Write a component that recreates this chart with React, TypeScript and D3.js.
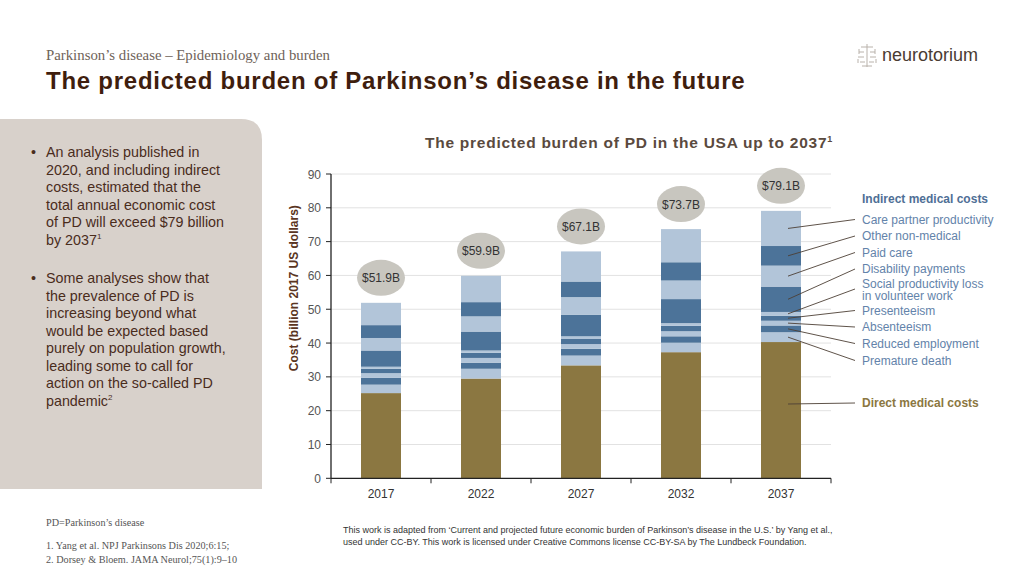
import React from "react";
import * as d3 from "d3";

// Projection years and annual cost components (billion 2017 US dollars)
const years = ["2017", "2022", "2027", "2032", "2037"];
const totals = [51.9, 59.9, 67.1, 73.7, 79.1];

const directMedical = [25.2, 29.5, 33.4, 37.3, 40.3];
const prematureDeath = [2.5, 2.9, 2.9, 2.8, 2.9];
const reducedEmployment = [2.0, 1.8, 2.0, 1.9, 2.0];
const absenteeism = [1.4, 1.4, 1.4, 1.5, 1.4];
const presenteeism = [1.3, 1.5, 1.5, 1.6, 1.5];
const socialProductivity = [0.6, 0.7, 0.8, 0.8, 1.1];
const disabilityPayments = [4.8, 5.6, 6.4, 7.1, 7.5];
const paidCare = [3.7, 4.5, 5.2, 5.5, 6.2];
const otherNonMedical = [3.8, 4.2, 4.6, 5.4, 5.8];
const carePartner = [6.6, 7.8, 8.9, 9.8, 10.4];

const yTicks = [0, 10, 20, 30, 40, 50, 60, 70, 80, 90];

const BROWN = "#8b7741";
const LIGHT = "#b2c5d9";
const DARK = "#4c7399";

// bottom-to-top stacking order
const series = [
  { key: "direct", values: directMedical, color: BROWN },
  { key: "premature", values: prematureDeath, color: LIGHT },
  { key: "reduced", values: reducedEmployment, color: DARK },
  { key: "absent", values: absenteeism, color: LIGHT },
  { key: "present", values: presenteeism, color: DARK },
  { key: "social", values: socialProductivity, color: LIGHT },
  { key: "disability", values: disabilityPayments, color: DARK },
  { key: "paid", values: paidCare, color: LIGHT },
  { key: "other", values: otherNonMedical, color: DARK },
  { key: "partner", values: carePartner, color: LIGHT },
];

// legend entries (top to bottom) with the stack key they point at
const legendItems = [
  { key: "partner", lines: ["Care partner productivity"], y: 219.5 },
  { key: "other", lines: ["Other non-medical"], y: 236 },
  { key: "paid", lines: ["Paid care"], y: 252.5 },
  { key: "disability", lines: ["Disability payments"], y: 269 },
  { key: "social", lines: ["Social productivity loss", "in volunteer work"], y: 283.5 },
  { key: "present", lines: ["Presenteeism"], y: 310.5 },
  { key: "absent", lines: ["Absenteeism"], y: 327 },
  { key: "reduced", lines: ["Reduced employment"], y: 343.5 },
  { key: "premature", lines: ["Premature death"], y: 360.5 },
];

const bullet1 = [
  "An analysis published in",
  "2020, and including indirect",
  "costs, estimated that the",
  "total annual economic cost",
  "of PD will exceed $79 billion",
];
const bullet2 = [
  "Some analyses show that",
  "the prevalence of PD is",
  "increasing beyond what",
  "would be expected based",
  "purely on population growth,",
  "leading some to call for",
  "action on the so-called PD",
];

const SANS = "'Liberation Sans', Arial, Helvetica, sans-serif";
const SERIF = "'Liberation Serif', 'Times New Roman', serif";

export default function App() {
  const x0 = 331;
  const x1 = 831;
  const yBase = 478.3;
  const yTop = 174;

  const x = d3.scaleBand<string>().domain(years).range([x0, x1]).paddingInner(0.6).paddingOuter(0.3);
  const y = d3.scaleLinear().domain([0, 90]).range([yBase, yTop]);

  const rows = years.map((yr, i) => {
    const r: Record<string, number | string> = { year: yr };
    series.forEach((s) => (r[s.key] = s.values[i]));
    return r;
  });
  const stack = d3.stack<Record<string, number | string>>().keys(series.map((s) => s.key));
  const stacked = stack(rows as any);
  const colorOf = Object.fromEntries(series.map((s) => [s.key, s.color]));

  const lastIdx = years.length - 1;
  const lastCx = (x(years[lastIdx]) as number) + x.bandwidth() / 2;
  const leaderStart = lastCx + 7;
  const leaderEnd = 855;
  const legendX = 862;

  const layerByKey: Record<string, any> = {};
  stacked.forEach((l) => (layerByKey[l.key] = l));

  const bodyFont = 14.3;

  return (
    <svg width={1024} height={576} style={{ position: "absolute", left: 0, top: 0, background: "#fff" }}>
      {/* header */}
      <text x={46} y={60} fontFamily={SERIF} fontSize={14.8} fill="#6e6258">
        Parkinson’s disease – Epidemiology and burden
      </text>
      <text x={46} y={89} fontFamily={SANS} fontSize={24} letterSpacing={0.75} fontWeight="bold" fill="#3f1e0e">
        The predicted burden of Parkinson’s disease in the future
      </text>

      {/* logo */}
      <g stroke="#b9b2ab" strokeWidth={1} fill="none">
        <line x1={867} y1={44} x2={867} y2={67} />
        <path d="M861 47 h12 M859 52 h5 M870 52 h5 M858 57 h6 M870 57 h6 M860 62 h5 M869 62 h5 M862 66 h10" />
        <path d="M859 49 v5 M875 49 v5 M858 59 v4 M876 59 v4" />
      </g>
      <text x={882} y={61} fontFamily={SANS} fontSize={18} fill="#4a3b32">
        neurotorium
      </text>

      {/* left panel */}
      <path d="M0 119 H241 Q262 119 262 140 V489 H0 Z" fill="#d8d1cb" />
      {bullet1.map((t, i) => (
        <text key={"b1" + i} x={46} y={157 + i * 17.5} fontFamily={SANS} fontSize={bodyFont} fill="#4a2c1c">
          {t}
        </text>
      ))}
      <text x={46} y={157 + 5 * 17.5} fontFamily={SANS} fontSize={bodyFont} fill="#4a2c1c">
        by 2037<tspan fontSize={8} dy={-6}>1</tspan>
      </text>
      <text x={31} y={157} fontFamily={SANS} fontSize={bodyFont} fill="#4a2c1c">•</text>
      {bullet2.map((t, i) => (
        <text key={"b2" + i} x={46} y={283 + i * 17.5} fontFamily={SANS} fontSize={bodyFont} fill="#4a2c1c">
          {t}
        </text>
      ))}
      <text x={46} y={283 + 7 * 17.5} fontFamily={SANS} fontSize={bodyFont} fill="#4a2c1c">
        pandemic<tspan fontSize={8} dy={-6}>2</tspan>
      </text>
      <text x={31} y={283} fontFamily={SANS} fontSize={bodyFont} fill="#4a2c1c">•</text>

      {/* footnotes */}
      <text x={46} y={526} fontFamily={SERIF} fontSize={10.2} fill="#555">PD=Parkinson’s disease</text>
      <text x={46} y={549} fontFamily={SERIF} fontSize={10.2} fill="#555">1. Yang et al. NPJ Parkinsons Dis 2020;6:15;</text>
      <text x={46} y={563} fontFamily={SERIF} fontSize={10.2} fill="#555">2. Dorsey &amp; Bloem. JAMA Neurol;75(1):9–10</text>
      <text x={343} y={533} fontFamily={SANS} fontSize={9} fill="#333">
        This work is adapted from ‘Current and projected future economic burden of Parkinson’s disease in the U.S.’ by Yang et al.,
      </text>
      <text x={343} y={545} fontFamily={SANS} fontSize={9} fill="#333">
        used under CC-BY. This work is licensed under Creative Commons license CC-BY-SA by The Lundbeck Foundation.
      </text>

      {/* chart title */}
      <text x={629} y={148} textAnchor="middle" fontFamily={SANS} fontSize={15.5} letterSpacing={0.75} fontWeight="bold" fill="#5a4a3e">
        The predicted burden of PD in the USA up to 2037<tspan fontSize={9} dy={-6}>1</tspan>
      </text>

      {/* gridlines */}
      {yTicks.slice(1).map((t) => (
        <line key={"g" + t} x1={x0} x2={x1} y1={y(t)} y2={y(t)} stroke="#e2e2e2" strokeWidth={1} />
      ))}

      {/* bars */}
      {stacked.map((layer) =>
        layer.map((d, i) => (
          <rect
            key={layer.key + i}
            x={x(years[i])}
            width={x.bandwidth()}
            y={y(d[1])}
            height={y(d[0]) - y(d[1])}
            fill={colorOf[layer.key]}
          />
        ))
      )}

      {/* total labels */}
      {years.map((yr, i) => {
        const cx = (x(yr) as number) + x.bandwidth() / 2;
        const cy = y(totals[i]) - 25;
        return (
          <g key={"tot" + yr}>
            <ellipse cx={cx} cy={cy} rx={24} ry={18} fill="#c8c6bf" />
            <text x={cx} y={cy + 4.5} textAnchor="middle" fontFamily={SANS} fontSize={12} fill="#333">
              ${totals[i].toFixed(1)}B
            </text>
          </g>
        );
      })}

      {/* y axis */}
      <line x1={x0} x2={x0} y1={yTop} y2={yBase} stroke="#222" strokeWidth={1.3} />
      {yTicks.map((t) => (
        <g key={"yt" + t}>
          <line x1={x0 - 5} x2={x0} y1={y(t)} y2={y(t)} stroke="#222" strokeWidth={1} />
          <text x={321} y={y(t) + 4.5} textAnchor="end" fontFamily={SANS} fontSize={12} fill="#555">
            {t}
          </text>
        </g>
      ))}
      <text
        transform={`translate(298,${(yTop + yBase) / 2 - 38}) rotate(-90)`}
        textAnchor="middle"
        fontFamily={SANS}
        fontSize={12}
        fontWeight="bold"
        fill="#5a3522"
      >
        Cost (billion 2017 US dollars)
      </text>

      {/* x axis */}
      <line x1={x0} x2={x1} y1={yBase} y2={yBase} stroke="#222" strokeWidth={1.3} />
      {d3.range(years.length + 1).map((k) => {
        const xx = x0 + k * x.step();
        return <line key={"xt" + k} x1={xx} x2={xx} y1={yBase} y2={yBase + 5} stroke="#222" strokeWidth={1} />;
      })}
      {years.map((yr) => (
        <text
          key={"xl" + yr}
          x={(x(yr) as number) + x.bandwidth() / 2}
          y={498}
          textAnchor="middle"
          fontFamily={SANS}
          fontSize={12}
          fill="#333"
        >
          {yr}
        </text>
      ))}

      {/* legend */}
      <text x={legendX} y={202.5} fontFamily={SANS} fontSize={12} fontWeight="bold" fill="#4f6f96">
        Indirect medical costs
      </text>
      {legendItems.map((it) => {
        const seg = layerByKey[it.key][lastIdx];
        const sy = y((seg[0] + seg[1]) / 2);
        const ey = it.lines.length > 1 ? it.y + 5.5 : it.y;
        return (
          <g key={"lg" + it.key}>
            <line x1={leaderStart} y1={sy} x2={leaderEnd} y2={ey} stroke="#4d4036" strokeWidth={0.9} />
            {it.lines.map((ln, j) => (
              <text
                key={j}
                x={legendX}
                y={it.y + 4.3 + j * 12}
                fontFamily={SANS}
                fontSize={12}
                fill="#6383aa"
              >
                {ln}
              </text>
            ))}
          </g>
        );
      })}
      <line x1={leaderStart} y1={404} x2={leaderEnd} y2={403} stroke="#4d4036" strokeWidth={0.9} />
      <text x={legendX} y={407} fontFamily={SANS} fontSize={12} fontWeight="bold" fill="#8b7741">
        Direct medical costs
      </text>
    </svg>
  );
}
